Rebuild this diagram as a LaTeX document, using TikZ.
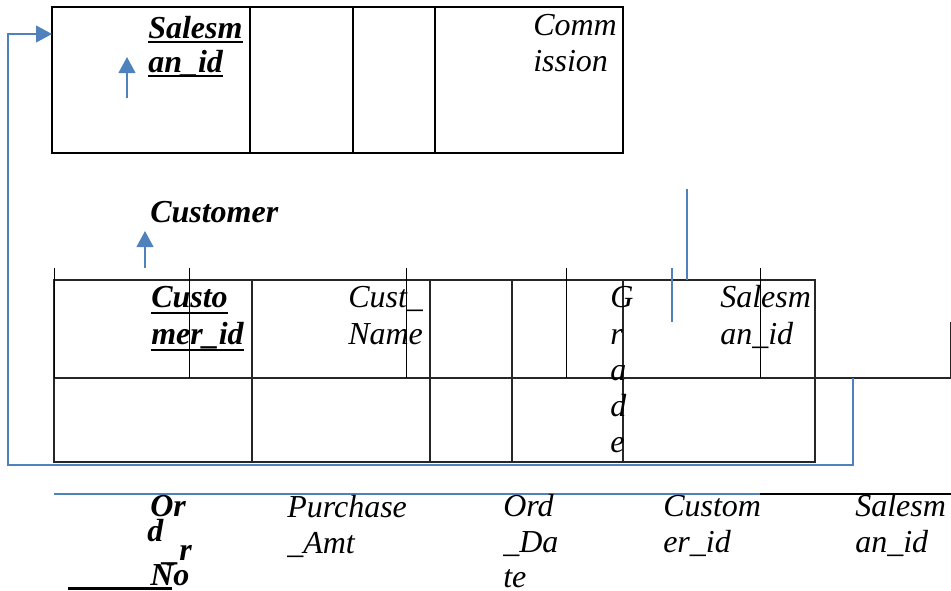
\documentclass[tikz,border=0pt]{standalone}
\usepackage{fontspec}
\setmainfont{Liberation Serif}
\usetikzlibrary{arrows.meta}
\definecolor{linkblue}{RGB}{79,129,189}
\begin{document}
\begin{tikzpicture}[x=0.75pt,y=-0.75pt,
  hdr/.style={inner sep=0pt,anchor=base west,font=\fontsize{24}{26}\selectfont\itshape},
  key/.style={inner sep=0pt,anchor=base west,font=\fontsize{24}{26}\selectfont\bfseries\itshape},
  tbl/.style={draw=black,line width=1.5pt},
  grid/.style={draw=black!85,line width=1.1pt},
  stub/.style={draw=black,line width=0.75pt},
  link/.style={draw=linkblue,line width=1.6pt},
  linkarrow/.style={link,-{Triangle[length=12pt,width=12.5pt]}},
  uline/.style={line width=2pt}]
\useasboundingbox (0,0) rectangle (951,590);

% ---------- Salesman table ----------
\draw[tbl] (52,7) rectangle (623,153);
\draw[tbl] (250,7) -- (250,153) (353,7) -- (353,153) (435,7) -- (435,153);
\coordinate (smEntry) at (52,34);
\node[key] (smA) at (148,38) {Salesm};
\node[key] (smB) at (148,72) {an\_id};
\draw[uline] ([yshift=-3pt]smA.base west) -- ([yshift=-3pt]smA.base east);
\draw[uline] ([yshift=-3pt]smB.base west) -- ([yshift=-3pt]smB.base east);
\node[hdr] (cmA) at (533,35) {Comm};
\node[hdr] (cmB) at (533,71) {ission};
\coordinate (pkA0) at (127,98);
\coordinate (pkA1) at (127,57);
\draw[linkarrow] (pkA0) -- (pkA1);

% ---------- Customer table ----------
\node[key] (custTitle) at (150,222) {Customer};
\coordinate (pkB0) at (145,268);
\coordinate (pkB1) at (145,231);
\draw[linkarrow] (pkB0) -- (pkB1);

\draw[grid] (54,280) rectangle (815,462);
\draw[grid] (54,378) -- (951,378) (951,322) -- (951,378);
\foreach \x in {252,430,512,623} \draw[grid] (\x,280) -- (\x,462);
\foreach \x in {54,189,406,566,760} \draw[stub] (\x,268) -- (\x,378);

\draw[link] (687,189) -- (687,280);
\draw[link] (672,268) -- (672,322);

\node[key] (cuA) at (151,307) {Custo};
\node[key] (cuB) at (151,344) {mer\_id};
\draw[uline] ([yshift=-4.5pt]cuA.base west) -- ([yshift=-4.5pt]cuA.base east);
\draw[uline] ([yshift=-4.5pt]cuB.base west) -- ([yshift=-4.5pt]cuB.base east);
\node[hdr] (cnA) at (348,307) {Cust\_};
\node[hdr] (cnB) at (348,344) {Name};
\node[hdr] (grG) at (610,307) {G};
\node[hdr] (grR) at (610,344) {r};
\node[hdr] (grA) at (610,380) {a};
\node[hdr] (grD) at (610,416) {d};
\node[hdr] (grE) at (610,452) {e};
\node[hdr] (csA) at (720,307) {Salesm};
\node[hdr] (csB) at (720,344) {an\_id};

% foreign key Salesman_id back to the Salesman table
\coordinate (fkStart) at (853,378);
\draw[linkarrow] (fkStart) -- (853,465) -- (8,465) -- (8,34) -- (smEntry);

% ---------- Orders table ----------
\draw[link] (54,494) -- (760,494);
\draw[draw=black,line width=1.1pt] (760,494) -- (951,494);

\node[key] (onA) at (150,516) {Or};
\node[key] (onB) at (147,541) {d};
\node[key] (onC) at (163,560) {\_r};
\node[key] (onD) at (150,585) {No};
\draw[line width=2.2pt] (68,588.5) -- (172,588.5);

\node[hdr] (paA) at (287,517) {Purchase};
\node[hdr] (paB) at (287,553) {\_Amt};
\node[hdr] (odA) at (503,516) {Ord};
\node[hdr] (odB) at (503,552) {\_Da};
\node[hdr] (odC) at (503,587) {te};
\node[hdr] (ocA) at (663,516) {Custom};
\node[hdr] (ocB) at (663,552) {er\_id};
\node[hdr] (osA) at (855,516) {Salesm};
\node[hdr] (osB) at (855,552) {an\_id};
\end{tikzpicture}
\end{document}
